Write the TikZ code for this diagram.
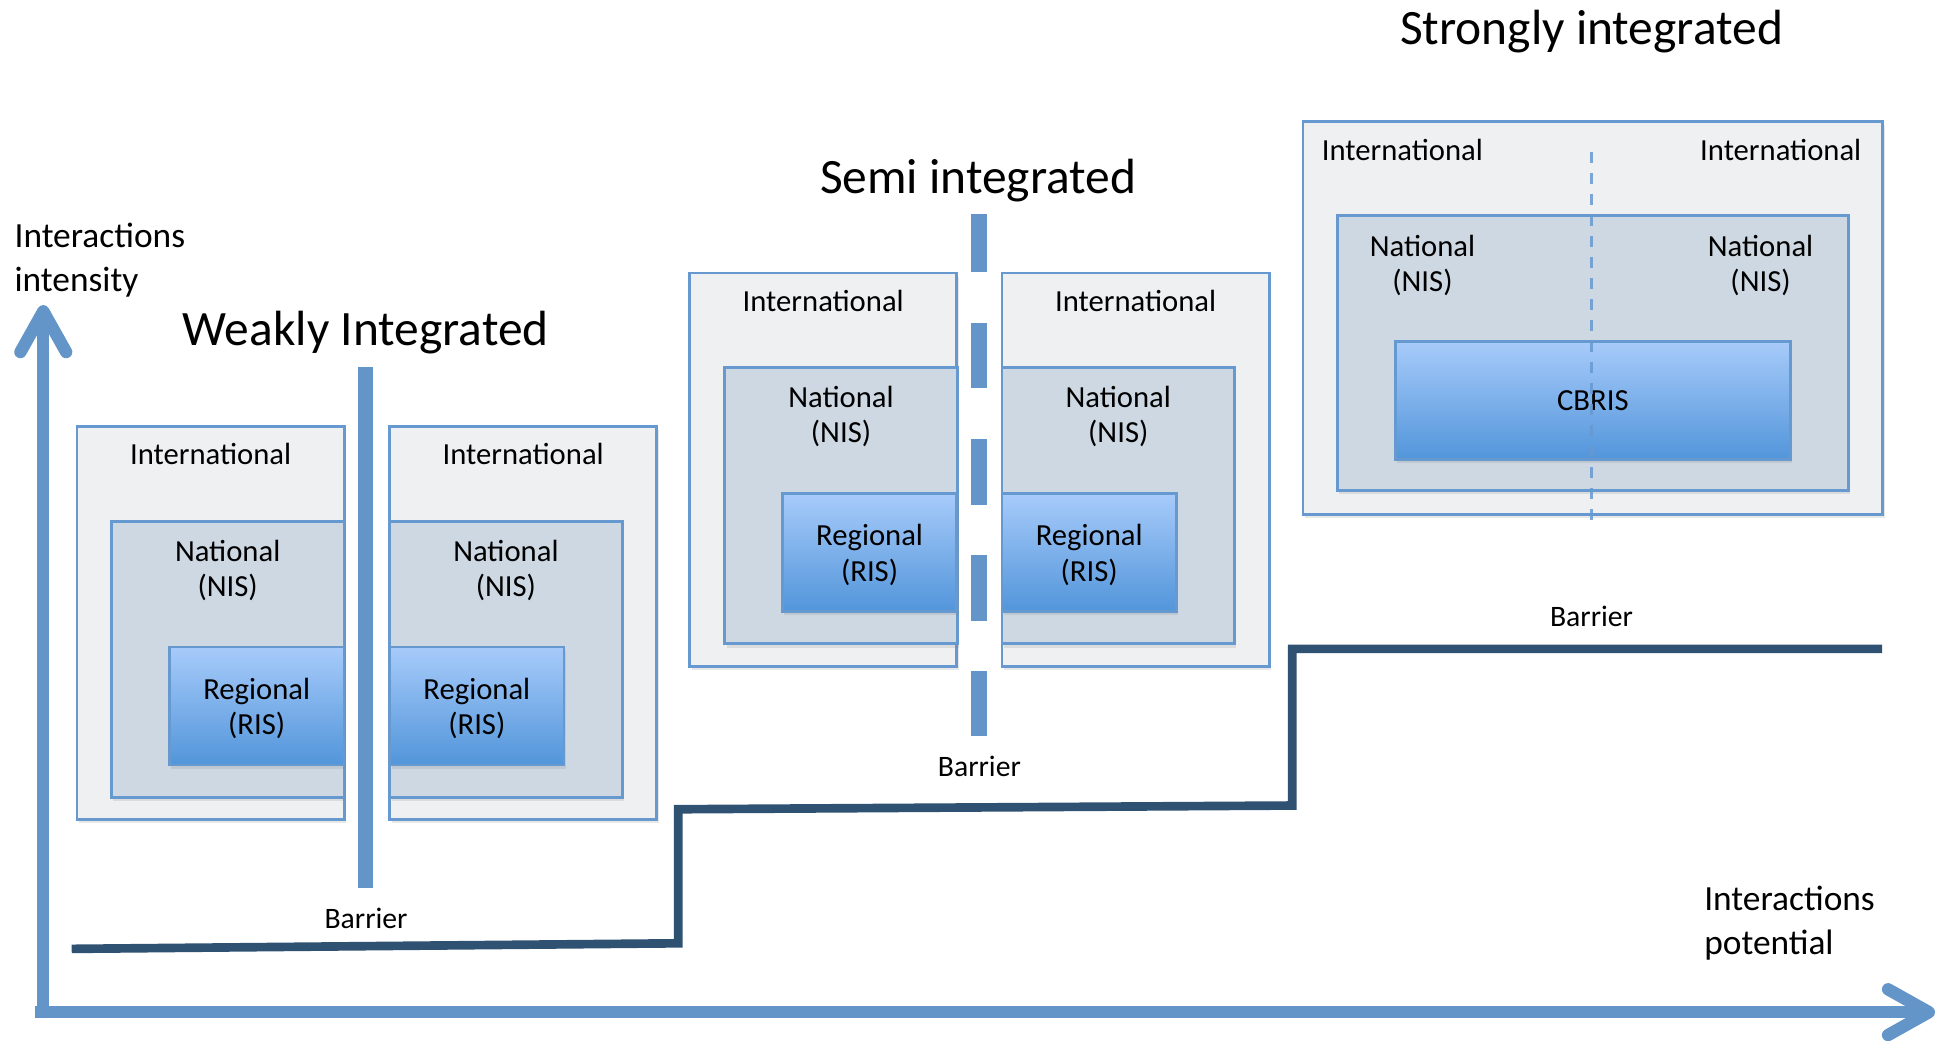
\documentclass[tikz,border=0pt]{standalone}
\usepackage{fontspec}
\setmainfont{Carlito}
\usetikzlibrary{positioning,shadows,arrows.meta}

\definecolor{axisblue}{HTML}{6495C8}
\definecolor{edgeblue}{HTML}{6699D0}
\definecolor{intgray}{HTML}{EFF0F2}
\definecolor{natgray}{HTML}{CED8E3}
\definecolor{regtop}{HTML}{A7CBFA}
\definecolor{regbot}{HTML}{5295DA}
\definecolor{stepblue}{HTML}{2F5273}

\tikzset{
  boxshadow/.style={drop shadow={opacity=.18, shadow xshift=1.5pt, shadow yshift=-3pt}},
  intbox/.style={draw=edgeblue, line width=2.2pt, fill=intgray, inner sep=0pt,
    anchor=north west, minimum width=216pt, minimum height=318pt, boxshadow},
  natbox/.style={draw=edgeblue, line width=2.2pt, fill=natgray, inner sep=0pt,
    anchor=north west, minimum width=188pt, minimum height=223.5pt, boxshadow},
  regbox/.style={draw=edgeblue, line width=2.2pt, top color=regtop, bottom color=regbot,
    inner sep=0pt, anchor=north west, minimum width=141pt, minimum height=95.5pt, boxshadow},
  lbl/.style={font=\fontsize{24.8}{28.5}\selectfont, align=center, inner sep=0pt},
  barlbl/.style={font=\fontsize{24}{28}\selectfont, inner sep=0pt, anchor=base},
  title/.style={font=\fontsize{40}{46}\selectfont, inner sep=0pt, anchor=base},
  axislbl/.style={font=\fontsize{28.6}{35.5}\selectfont, align=left, inner sep=0pt, anchor=north west},
  axis/.style={draw=axisblue, line width=10pt,
    -{Straight Barb[round, length=33pt, width=37pt]}},
  barrier/.style={draw=axisblue, line width=12.7pt},
  stepline/.style={draw=stepblue, line width=7pt, line join=miter}
}

\begin{document}
\begin{tikzpicture}[x=1pt,y=-1pt]
  \useasboundingbox (0,0) rectangle (1568,841.8);

  % axes
  \coordinate (origin) at (35,818.5);
  \coordinate (ytip) at (35,246.7);
  \coordinate (xstart) at (28.3,818.5);
  \coordinate (xtip) at (1564.8,818.5);
  \draw[axis] (origin) -- (ytip);
  \draw[axis] (xstart) -- (xtip);
  \node[axislbl] (yl) at (11.6,180) {Interactions\\intensity};
  \node[axislbl] (xl) at (1378,716) {Interactions\\potential};

  % barrier steps
  \draw[stepline] (58,767.3) -- (548.5,762.8) -- (548.5,654.4) -- (1045,651.4)
    -- (1045,524.7) -- (1522,524.7);

  % weakly integrated
  \node[title] (weak) at (295.7,279) {Weakly Integrated};
  \node[intbox] (wl-int) at (61.2,343.7) {};
  \node[natbox] (wl-nat) at (89,420.5) {};
  \node[regbox] (wl-reg) at (136,522) {};
  \node[intbox] (wr-int) at (314,343.7) {};
  \node[natbox] (wr-nat) at (314,420.5) {};
  \node[regbox] (wr-reg) at (314,522) {};
  \node[lbl, anchor=base] (wl-int-t) at ([yshift=-32.3pt]wl-int.north) {International};
  \node[lbl, anchor=base] (wr-int-t) at ([yshift=-32.3pt]wr-int.north) {International};
  \node[lbl] (wl-nat-t) at ([yshift=-41pt]wl-nat.north) {National\\(NIS)};
  \node[lbl] (wr-nat-t) at ([yshift=-41pt]wr-nat.north) {National\\(NIS)};
  \node[lbl] (wl-reg-t) at ([yshift=-2pt]wl-reg.center) {Regional\\(RIS)};
  \node[lbl] (wr-reg-t) at ([yshift=-2pt]wr-reg.center) {Regional\\(RIS)};
  \draw[barrier] (295.5,296.5) -- (295.5,718);
  \node[barlbl] (wb) at (296,750.5) {Barrier};

  % semi integrated
  \node[title] (semi) at (791,156.8) {Semi integrated};
  \node[intbox] (sl-int) at (556.6,219.7) {};
  \node[natbox] (sl-nat) at (585,296) {};
  \node[regbox] (sl-reg) at (631.6,398) {};
  \node[intbox] (sr-int) at (809.2,219.7) {};
  \node[natbox] (sr-nat) at (809.2,296) {};
  \node[regbox] (sr-reg) at (809.2,398) {};
  \node[lbl, anchor=base] (sl-int-t) at ([yshift=-32.3pt]sl-int.north) {International};
  \node[lbl, anchor=base] (sr-int-t) at ([yshift=-32.3pt]sr-int.north) {International};
  \node[lbl] (sl-nat-t) at ([yshift=-41pt]sl-nat.north) {National\\(NIS)};
  \node[lbl] (sr-nat-t) at ([yshift=-41pt]sr-nat.north) {National\\(NIS)};
  \node[lbl] (sl-reg-t) at ([yshift=-2pt]sl-reg.center) {Regional\\(RIS)};
  \node[lbl] (sr-reg-t) at ([yshift=-2pt]sr-reg.center) {Regional\\(RIS)};
  \draw[barrier, dash pattern=on 53pt off 41pt, dash phase=6pt] (791.5,173) -- (791.5,594.8);
  \node[barlbl] (sb) at (792,627.9) {Barrier};

  % strongly integrated
  \node[title] (strong) at (1287,36) {Strongly integrated};
  \node[intbox, minimum width=468.8pt] (st-int) at (1052.6,97) {};
  \node[natbox, minimum width=413.2pt, minimum height=222.4pt] (st-nat) at (1080.4,173.3) {};
  \node[regbox, minimum width=319.4pt, minimum height=95.6pt] (cbris) at (1127.3,275) {};
  \node[lbl, anchor=base] (stl-int-t) at (1134,129.4) {International};
  \node[lbl, anchor=base] (str-int-t) at (1440,129.4) {International};
  \node[lbl] (stl-nat-t) at (1150.3,214.5) {National\\(NIS)};
  \node[lbl] (str-nat-t) at (1423.7,214.5) {National\\(NIS)};
  \node[lbl] (cbris-t) at (cbris.center) {CBRIS};
  \draw[edgeblue, line width=2.2pt, dash pattern=on 9pt off 8pt, opacity=.85]
    (1287,122.6) -- (1287,427.2);
  \node[barlbl] (stb) at (1287,507) {Barrier};
\end{tikzpicture}
\end{document}
